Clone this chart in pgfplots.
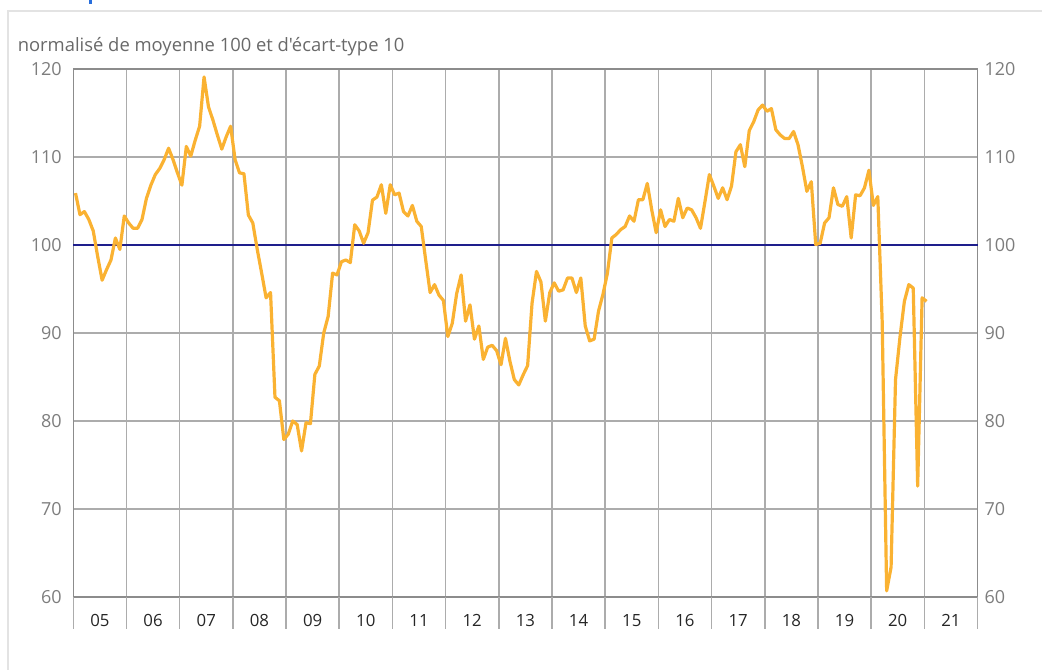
\documentclass[border=0pt]{standalone}
\usepackage{fontspec}
\setmainfont{Open Sans}
\newfontfamily\titfont{Open Sans}[Ligatures=TeXOff]
\usepackage{pgfplots}
\pgfplotsset{compat=1.18}
\usepackage{pgfplotstable}
\definecolor{lineor}{RGB}{250,178,50}
\definecolor{navyline}{RGB}{30,30,140}
\definecolor{gridc}{RGB}{172,172,172}
\definecolor{framec}{RGB}{140,140,140}
\definecolor{labc}{RGB}{125,125,125}
\definecolor{titc}{RGB}{105,105,105}
\definecolor{topblue}{RGB}{40,110,220}

\pgfplotstableread{
v
105.9
103.45
103.8
102.9
101.6
98.7
96.0
97.2
98.3
100.8
99.5
103.3
102.5
101.9
101.9
102.9
105.3
106.8
108.0
108.7
109.7
111.0
109.7
108.2
106.8
111.2
110.1
111.9
113.5
119.1
115.7
114.2
112.5
110.9
112.3
113.5
109.7
108.2
108.1
103.4
102.5
99.5
96.8
94.0
94.6
82.7
82.3
77.9
78.5
80.0
79.6
76.6
79.8
79.7
85.3
86.25
90.0
91.9
96.8
96.6
98.1
98.3
98.0
102.3
101.6
100.2
101.4
105.1
105.45
106.85
103.6
106.85
105.7
105.9
103.8
103.3
104.5
102.7
102.1
98.3
94.6
95.5
94.3
93.7
89.6
91.1
94.5
96.6
91.35
93.2
89.3
90.8
87.0
88.4
88.6
88.0
86.4
89.4
86.8
84.7
84.1
85.25
86.3
93.4
97.0
95.8
91.35
94.6
95.7
94.75
94.9
96.25
96.25
94.6
96.25
90.8
89.1
89.3
92.5
94.4
96.8
100.8
101.2
101.75
102.1
103.3
102.7
105.15
105.15
107.0
104.0
101.4
104.0
102.1
102.9
102.7
105.3
103.1
104.2
104.0
103.1
101.9
104.9
108.0
106.7
105.3
106.5
105.15
106.7
110.6
111.4
108.9
113.0
114.0
115.35
115.9
115.2
115.5
113.1
112.5
112.1
112.1
112.9
111.4
108.9
106.1
107.2
100.05
100.2
102.5
103.1
106.5
104.6
104.4
105.5
100.8
105.7
105.6
106.5
108.5
104.5
105.5
91.2
60.7
63.4
84.7
89.5
93.6
95.5
95.1
72.6
94.0
93.6
}\climat

\begin{document}
\begin{tikzpicture}
\useasboundingbox (0,0) rectangle (521pt,335pt);
\draw[gray!22, line width=0.8pt] (4pt,0) -- (4pt,329.5pt) -- (521pt,329.5pt);
\fill[topblue] (44.6pt,333.2pt) rectangle (46.2pt,335pt);
\node[anchor=base west, text=titc, font=\titfont\fontsize{9.2}{11}\selectfont, inner sep=0pt] at (8.7pt,309.2pt) {normalisé de moyenne 100 et d'écart-type 10};
\begin{axis}[
  at={(36.65pt,36.5pt)}, anchor=south west,
  scale only axis, width=452.1pt, height=264pt,
  xmin=-0.5, xmax=203.5, ymin=60, ymax=120,
  clip=false,
  xtick={-0.5,11.5,23.5,35.5,47.5,59.5,71.5,83.5,95.5,107.5,119.5,131.5,143.5,155.5,167.5,179.5,191.5,203.5},
  x tick label as interval,
  xticklabels={05,06,07,08,09,10,11,12,13,14,15,16,17,18,19,20,21},
  xticklabel style={font=\fontsize{8.4}{10}\selectfont, text=black!85, anchor=north, yshift=-5pt},
  ytick={60,70,80,90,100,110,120},
  yticklabel style={font=\fontsize{9}{11}\selectfont, text=labc, xshift=-2.3pt},
  /pgf/number format/assume math mode=true,
  tick style={draw=none},
  grid=major,
  major grid style={gridc, line width=0.75pt},
  axis line style={framec, line width=0.75pt},
]
\pgfplotsinvokeforeach{-0.5,11.5,23.5,35.5,47.5,59.5,71.5,83.5,95.5,107.5,119.5,131.5,143.5,155.5,167.5,179.5,191.5,203.5}{
  \draw[gridc, line width=0.75pt] (axis cs:#1,60) -- ([yshift=-16pt]axis cs:#1,60);
}
\addplot[navyline, line width=1pt] coordinates {(-0.5,100) (203.5,100)};
\addplot[lineor, line width=1.6pt, line join=round] table[x expr=\coordindex, y=v] {\climat};
\end{axis}
\begin{axis}[
  at={(36.65pt,36.5pt)}, anchor=south west,
  scale only axis, width=452.1pt, height=264pt,
  xmin=-0.5, xmax=203.5, ymin=60, ymax=120,
  hide x axis, axis y line*=right,
  y axis line style={draw=none},
  ytick={60,70,80,90,100,110,120},
  ytick style={draw=none},
  yticklabel style={font=\fontsize{9}{11}\selectfont, text=labc},
  /pgf/number format/assume math mode=true,
]
\addplot[draw=none] coordinates {(0,100)};
\end{axis}
\end{tikzpicture}
\end{document}
